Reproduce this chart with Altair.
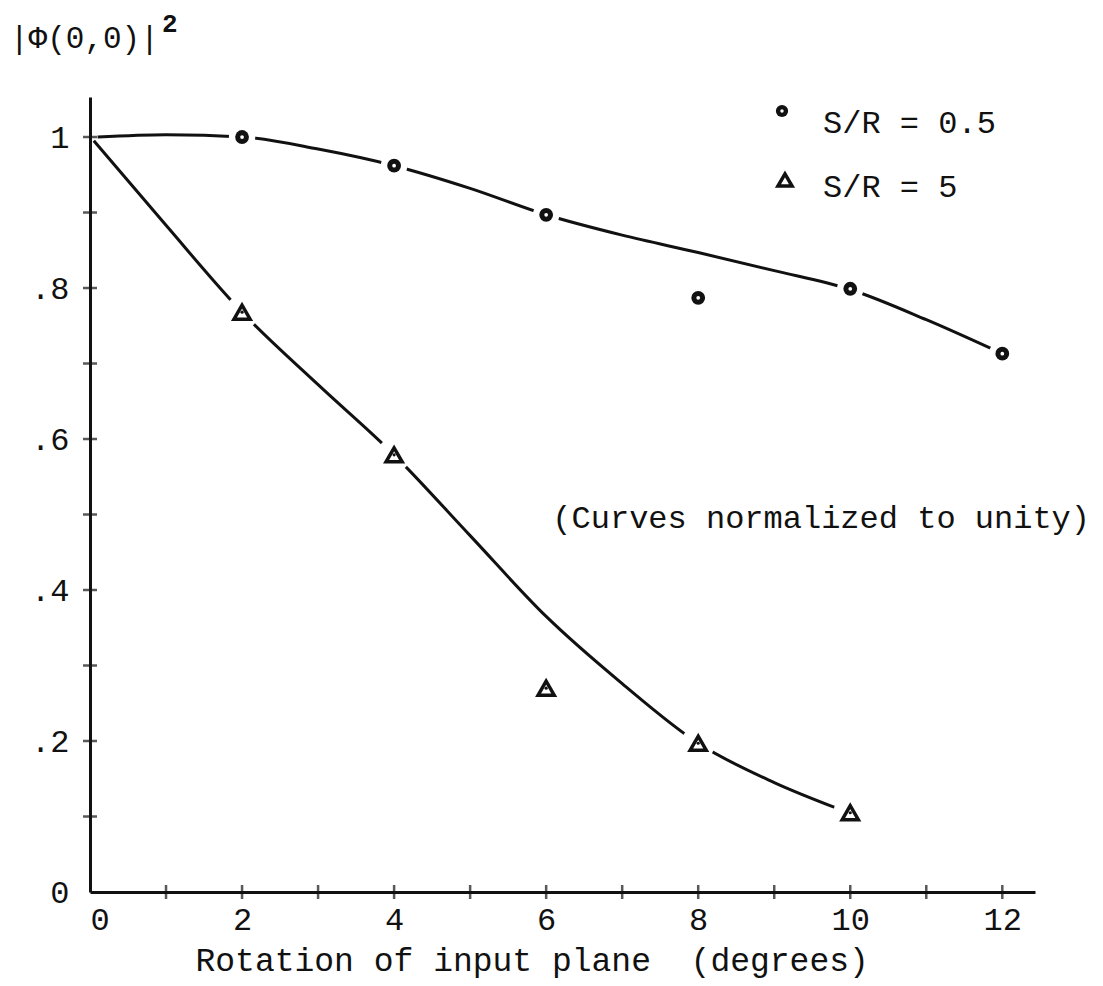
import altair as alt
import pandas as pd

# ---- data ----
circ_x = [2, 4, 6, 8, 10, 12]
circ_y = [1.0, 0.962, 0.897, 0.787, 0.799, 0.713]
tri_x = [2, 4, 6, 8, 10]
tri_y = [0.768, 0.579, 0.270, 0.197, 0.105]

# smooth fitted curves
curve_c_x = [0.1, 1, 2, 3, 4, 5, 6, 7, 8, 9, 10, 11, 12]
curve_c_y = [1.0, 1.003, 1.0, 0.984, 0.962, 0.932, 0.897, 0.870, 0.847, 0.823, 0.798, 0.758, 0.713]
curve_t_x = [0.05, 1, 2, 3, 4, 5, 6, 7, 8, 9, 9.85]
curve_t_y = [0.995, 0.883, 0.768, 0.672, 0.579, 0.472, 0.365, 0.276, 0.197, 0.145, 0.11]

x_ticks = list(range(1, 13))
y_ticks = [0.1, 0.2, 0.3, 0.4, 0.5, 0.6, 0.7, 0.8, 0.9, 1.0]
x_labels = [0, 2, 4, 6, 8, 10, 12]
y_labels = [0, 0.2, 0.4, 0.6, 0.8, 1.0]

FONT = "Liberation Mono"
INK = "#111111"
FS = 32

pts_c = pd.DataFrame({"x": circ_x, "y": circ_y})
pts_t = pd.DataFrame({"x": tri_x, "y": tri_y})
cur_c = pd.DataFrame({"x": curve_c_x, "y": curve_c_y})
cur_t = pd.DataFrame({"x": curve_t_x, "y": curve_t_y})
xt = pd.DataFrame({"x": x_ticks})
yt = pd.DataFrame({"y": y_ticks})

xs = alt.Scale(domain=[0, 12.43], nice=False, zero=False)
ys = alt.Scale(domain=[0, 1.053], nice=False, zero=False)

xaxis = alt.Axis(
    values=x_labels, format="d", tickSize=0, grid=False, domainWidth=3, domainColor=INK,
    labelFont=FONT, labelFontSize=FS, labelColor=INK, labelPadding=12,
    title="Rotation of input plane \u00a0(degrees)", titleFont=FONT, titleFontSize=33,
    titleFontWeight="normal", titleColor=INK, titleX=105, titleY=68,
    titleAlign="left", titleBaseline="middle", titleAnchor="start",
)
yaxis = alt.Axis(
    values=y_labels, tickSize=0, grid=False, domainWidth=3, domainColor=INK,
    labelFont=FONT, labelFontSize=FS, labelColor=INK, labelPadding=21,
    labelExpr="datum.value == 0 ? '0' : datum.value == 1 ? '1' : replace(format(datum.value, '.1f'), '0.', '.')",
    title=None,
)

X = alt.X("x:Q", scale=xs, axis=xaxis)
Y = alt.Y("y:Q", scale=ys, axis=yaxis)
Xn = alt.X("x:Q", scale=xs)
Yn = alt.Y("y:Q", scale=ys)

line_c = alt.Chart(cur_c).mark_line(color=INK, strokeWidth=3, interpolate="monotone").encode(x=X, y=Y)
line_t = alt.Chart(cur_t).mark_line(color=INK, strokeWidth=3, interpolate="monotone").encode(x=Xn, y=Yn)

halo_c = alt.Chart(pts_c).mark_point(shape="circle", filled=True, color="white", size=700, opacity=1).encode(x=Xn, y=Yn)
halo_t = alt.Chart(pts_t).mark_point(shape="circle", filled=True, color="white", size=1150, opacity=1).encode(x=Xn, y=Yn)

dot_c = alt.Chart(pts_c).mark_point(shape="circle", filled=True, color=INK, size=190, opacity=1).encode(x=Xn, y=Yn)
dot_c_in = alt.Chart(pts_c).mark_point(shape="circle", filled=True, color="white", size=14, opacity=1).encode(x=Xn, y=Yn)
tri = alt.Chart(pts_t).mark_point(shape="triangle-up", filled=False, color=INK, strokeWidth=3.5, size=260, opacity=1).encode(x=Xn, y=Yn)
tri_in = alt.Chart(pts_t).mark_point(shape="circle", filled=True, color=INK, size=10, opacity=1).encode(x=Xn, y=Yn)

tick_x = alt.Chart(xt).mark_tick(orient="vertical", color=INK, size=14, thickness=2.5).encode(x=Xn, y=alt.YDatum(0))
tick_y = alt.Chart(yt).mark_tick(orient="horizontal", color=INK, size=14, thickness=2.5).encode(y=Yn, x=alt.XDatum(0))

# y-axis label |Φ(0,0)|² and annotations (pixel-placed text)
ylab = alt.Chart(pd.DataFrame({"t": ["|\u03a6(0,0)|"]})).mark_text(
    font=FONT, fontSize=31, align="left", baseline="middle", color=INK
).encode(text="t:N", x=alt.value(-80), y=alt.value(-58))
ysup = alt.Chart(pd.DataFrame({"t": ["2"]})).mark_text(
    font=FONT, fontSize=26, fontWeight="bold", align="left", baseline="middle", color=INK
).encode(text="t:N", x=alt.value(72), y=alt.value(-73))

note = alt.Chart(pd.DataFrame({"t": ["(Curves normalized to unity)"]})).mark_text(
    font=FONT, fontSize=FS, align="right", baseline="middle", color=INK
).encode(text="t:N", x=alt.value(1000), y=alt.value(421))

leg_lab = ["S/R = 0.5", "S/R = 5"]
leg1 = alt.Chart(pd.DataFrame({"t": [leg_lab[0]]})).mark_text(
    font=FONT, fontSize=FS, align="left", baseline="middle", color=INK
).encode(text="t:N", x=alt.value(733), y=alt.value(26))
leg2 = alt.Chart(pd.DataFrame({"t": [leg_lab[1]]})).mark_text(
    font=FONT, fontSize=FS, align="left", baseline="middle", color=INK
).encode(text="t:N", x=alt.value(733), y=alt.value(90))
legm1 = alt.Chart(pd.DataFrame({"t": [leg_lab[0]]})).mark_point(
    shape="circle", filled=True, color=INK, size=150, opacity=1
).encode(x=alt.value(692), y=alt.value(14))
legm1i = alt.Chart(pd.DataFrame({"t": [leg_lab[0]]})).mark_point(
    shape="circle", filled=True, color="white", size=12, opacity=1
).encode(x=alt.value(692), y=alt.value(14))
legm2 = alt.Chart(pd.DataFrame({"t": [leg_lab[1]]})).mark_point(
    shape="triangle-up", filled=False, color=INK, strokeWidth=3.5, size=200, opacity=1
).encode(x=alt.value(695), y=alt.value(83))

chart = alt.layer(
    line_c, line_t, halo_c, halo_t, dot_c, dot_c_in, tri, tri_in,
    tick_x, tick_y, ylab, ysup, note, leg1, leg2, legm1, legm1i, legm2,
).properties(
    width=945, height=795,
    autosize=alt.AutoSizeParams(type="none"),
    padding={"left": 90, "top": 97, "right": 68, "bottom": 94},
).configure(background="white", view=alt.ViewConfig(stroke=None))

chart.save("out.html", embed_options={"renderer": "svg", "actions": False})
